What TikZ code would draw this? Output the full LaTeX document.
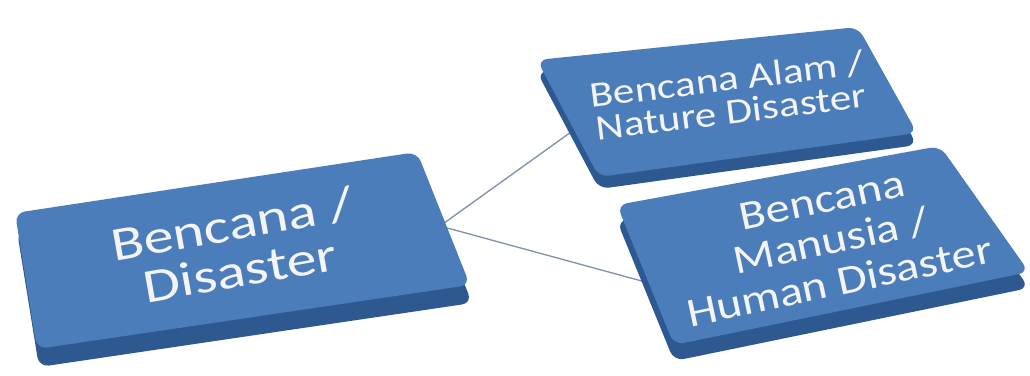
\documentclass[tikz,border=0pt]{standalone}
\usepackage{fontspec}
\setmainfont{Carlito}
\definecolor{topblue}{HTML}{4A7DBA}
\definecolor{sideblue}{HTML}{2D5890}
\definecolor{linegray}{HTML}{7E8FA8}
\definecolor{txt}{HTML}{F4F4F4}
\begin{document}
\begin{tikzpicture}[x=1pt,y=-1pt,
  side/.style={fill=sideblue,draw=none,rounded corners=10pt},
  face/.style={fill=topblue,draw=none,rounded corners=10pt},
  lbl/.style={text=txt,align=center,inner sep=0pt},
  conn/.style={draw=linegray,line width=1.3pt}]
\useasboundingbox (0,0) rectangle (1030,375);
\fill[white] (0,0) rectangle (1030,375);
% connector anchors
\coordinate (hub) at (440,226);
\coordinate (na) at (585,122);
\coordinate (hu) at (660,286);
\draw[conn] (hub) -- (na);
\draw[conn] (hub) -- (hu);
% left box
\fill[side] (17,231) -- (419,170) -- (472,303) -- (39,367) -- cycle;
\fill[face] (15,213) -- (417,152) -- (470,285) -- (37,349) -- cycle;
% nature box
\fill[side] (537,72) -- (858,39) -- (917,145) -- (599,189) -- cycle;
\fill[face] (537,60) -- (858,27) -- (917,133) -- (599,177) -- cycle;
% human box
\fill[side] (617,221) -- (940,162) -- (1029,288) -- (674,361) -- cycle;
\fill[face] (617,205) -- (940,146) -- (1029,272) -- (674,345) -- cycle;
% labels
\node[lbl,rotate=10,xscale=1.25,font=\fontsize{48}{47}\selectfont] (dis) at (236,247) {Bencana /\\Disaster};
\node[lbl,rotate=7,xscale=1.2,font=\fontsize{36}{33}\selectfont] (nat) at (729,95) {Bencana Alam /\\Nature Disaster};
\node[lbl,rotate=12,xscale=1.18,font=\fontsize{41}{42}\selectfont] (hum) at (831,241) {Bencana\\Manusia /\\Human Disaster};
\end{tikzpicture}
\end{document}
